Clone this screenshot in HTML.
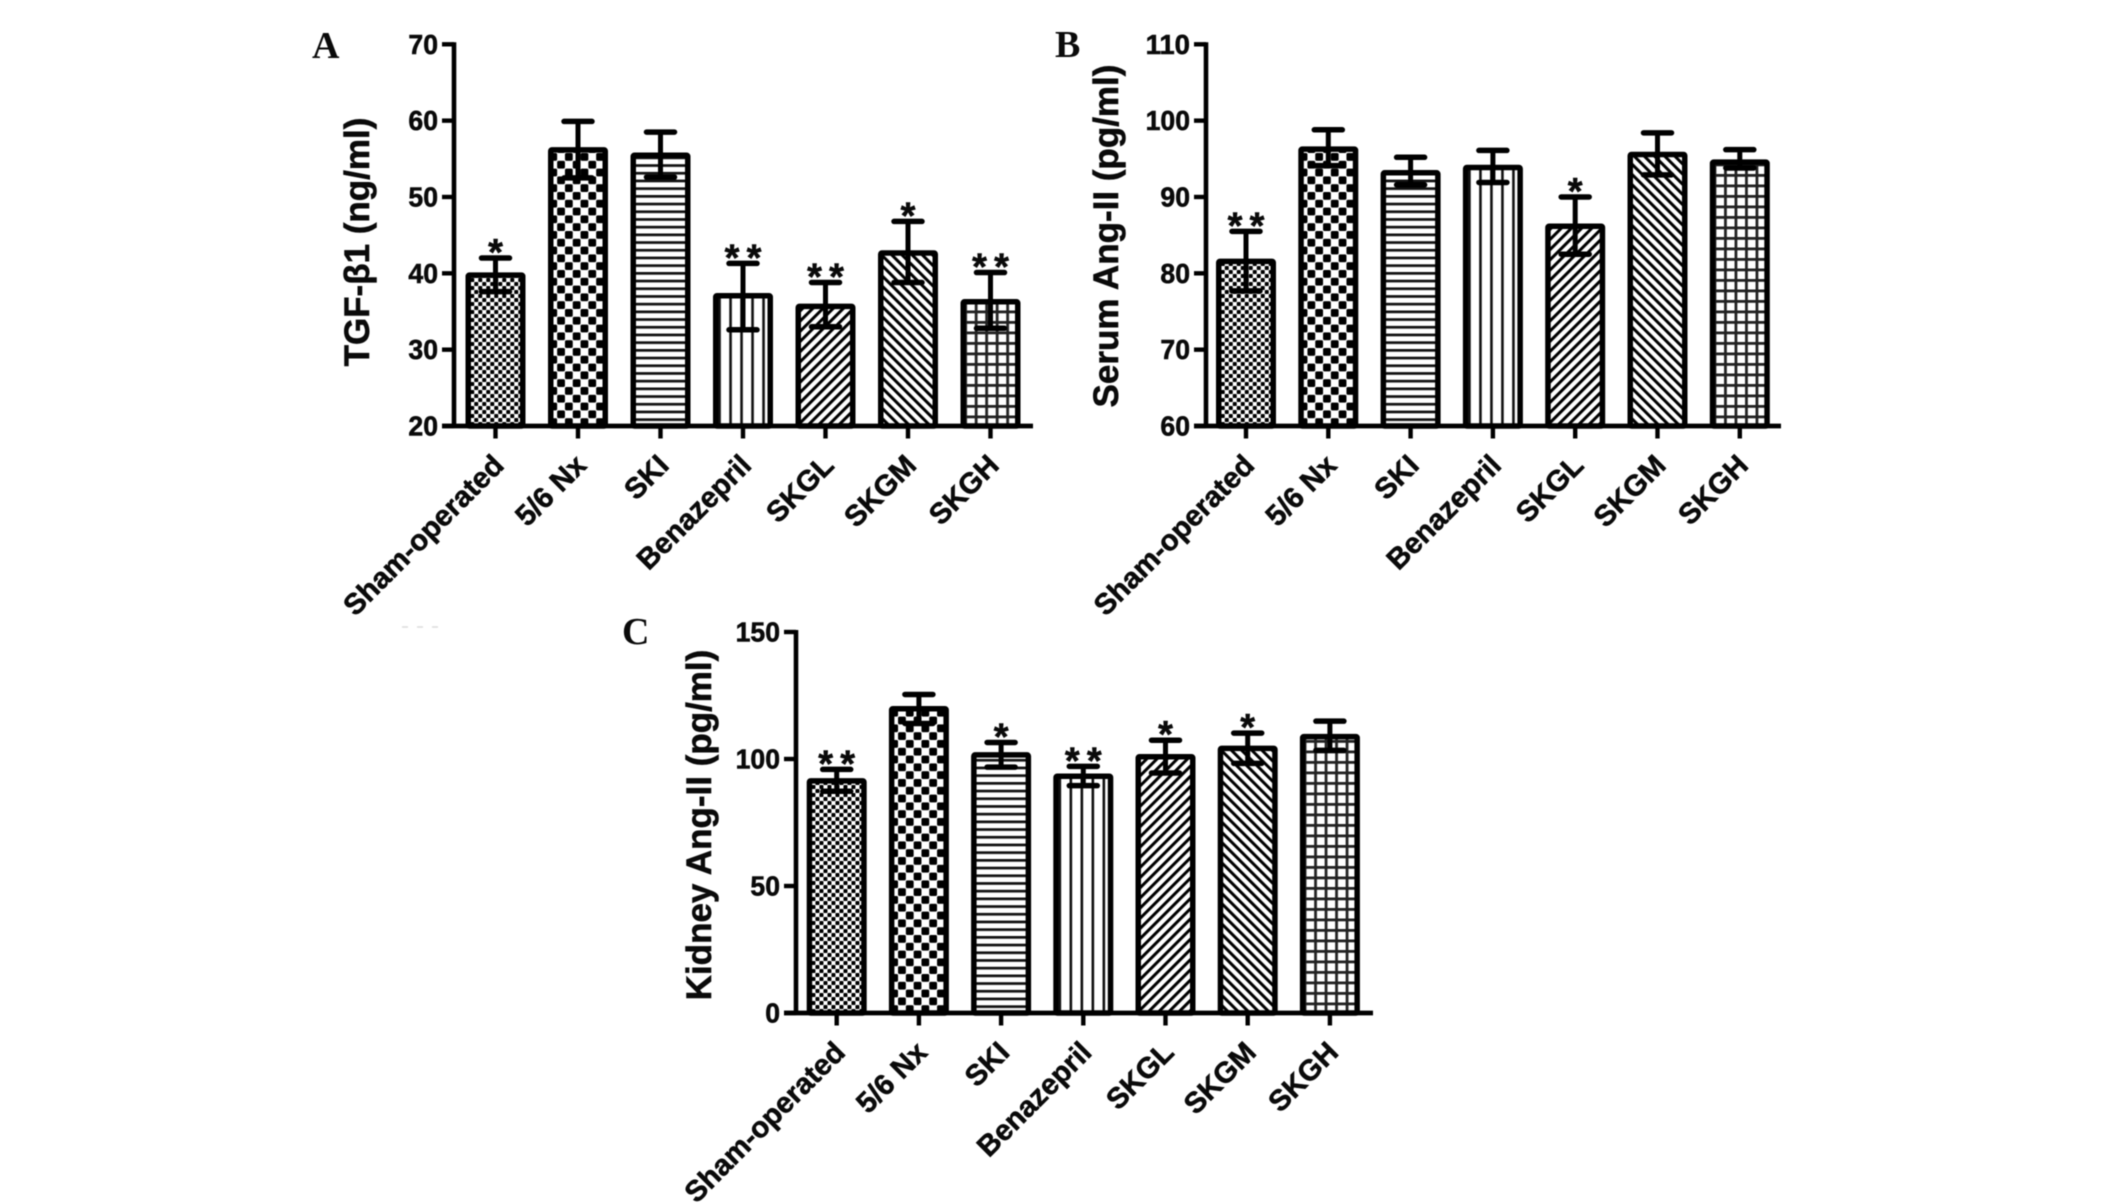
<!DOCTYPE html>
<html lang="en">
<head>
<meta charset="utf-8">
<title>TGF-β1, Serum Ang-II and Kidney Ang-II bar charts</title>
<style>
html,body{margin:0;padding:0;background:#fff;}
#figure{display:block;width:2126px;height:1203px;filter:blur(0.5px);}
text{font-family:"Liberation Sans",Arial,sans-serif;font-weight:bold;fill:#0a0a0a;stroke:#0a0a0a;stroke-width:0.55px;}
text.letter{font-family:"Liberation Serif","Times New Roman",serif;stroke:none;}
</style>
</head>
<body>
<svg id="figure" xmlns="http://www.w3.org/2000/svg" width="2126" height="1203" viewBox="0 0 2126 1203">
<defs id="defs"></defs>
<rect x="0" y="0" width="2126" height="1203" fill="#fff"></rect>
<line x1="402" y1="627" x2="438" y2="627" stroke="#dcdcdc" stroke-width="1.5" stroke-dasharray="6 9"></line>
</svg>
<script>
const categories = ['Sham-operated', '5/6 Nx', 'SKI', 'Benazepril', 'SKGL', 'SKGM', 'SKGH'];

const ticksA = [20, 30, 40, 50, 60, 70];
const valuesA = [39.9, 56.3, 55.6, 37.2, 35.8, 42.8, 36.4];
const upperA = [42.0, 59.9, 58.5, 41.3, 38.8, 46.8, 40.1];
const lowerA = [37.6, 52.5, 52.6, 32.6, 33.0, 38.8, 32.8];
const starsA = [1, 0, 0, 2, 2, 1, 2];

const ticksB = [60, 70, 80, 90, 100, 110];
const valuesB = [81.7, 96.4, 93.3, 94.0, 86.3, 95.7, 94.7];
const upperB = [85.5, 98.8, 95.2, 96.1, 90.0, 98.4, 96.2];
const lowerB = [77.7, 94.1, 91.6, 91.9, 82.5, 92.9, 93.8];
const starsB = [2, 0, 0, 0, 1, 0, 0];

const ticksC = [0, 50, 100, 150];
const valuesC = [91.8, 120.2, 102.0, 93.6, 101.3, 104.6, 109.2];
const upperC = [95.9, 125.4, 106.5, 97.1, 107.4, 110.2, 114.9];
const lowerC = [87.3, 114.0, 96.8, 89.5, 94.5, 98.3, 103.4];
const starsC = [2, 0, 1, 2, 1, 1, 0];

const SVG_NS = 'http://www.w3.org/2000/svg';
const svg = document.getElementById('figure');
const defs = document.getElementById('defs');

function make(tag, attrs, parent) {
  const node = document.createElementNS(SVG_NS, tag);
  for (const key in attrs) node.setAttribute(key, attrs[key]);
  parent.appendChild(node);
  return node;
}

function makePattern(id, index, cx, axisY) {
  const kinds = [
    {w: 8, h: 8},
    {w: 15.6, h: 15.6},
    {w: 10, h: 7.7},
    {w: 11, h: 10},
    {w: 7.2, h: 7.2, rotate: 45},
    {w: 7.2, h: 7.2, rotate: -45},
    {w: 10.5, h: 10.5}
  ];
  const kind = kinds[index];
  const attrs = {id: id, patternUnits: 'userSpaceOnUse', x: cx - 5.25, y: axisY, width: kind.w, height: kind.h};
  if (kind.rotate) {
    attrs.x = 0;
    attrs.y = 0;
    attrs.patternTransform = 'translate(' + cx + ' ' + axisY + ') rotate(' + kind.rotate + ')';
  }
  if (index === 3) attrs.x = cx - 5.5 + 2.75;
  const p = make('pattern', attrs, defs);
  make('rect', {x: 0, y: 0, width: kind.w, height: kind.h, fill: '#fff'}, p);
  if (index === 0 || index === 1) {
    const c = kind.w / 2;
    make('rect', {x: 0, y: 0, width: c, height: c, fill: '#000', rx: index === 1 ? 1.6 : 0.8}, p);
    make('rect', {x: c, y: c, width: c, height: c, fill: '#000', rx: index === 1 ? 1.6 : 0.8}, p);
  } else if (index === 2) {
    make('rect', {x: 0, y: 0, width: kind.w, height: 2.7, fill: '#111'}, p);
  } else if (index === 3) {
    make('rect', {x: 0, y: 0, width: 2.6, height: kind.h, fill: '#111'}, p);
  } else if (index === 4 || index === 5) {
    make('rect', {x: 0, y: 0, width: 3.0, height: kind.h, fill: '#000'}, p);
  } else {
    make('rect', {x: 0, y: 0, width: 2.8, height: kind.h, fill: '#222'}, p);
    make('rect', {x: 0, y: 0, width: kind.w, height: 2.8, fill: '#222'}, p);
  }
}

function drawPanel(key, opts, ticks, values, upper, lower, stars) {
  const min = ticks[0];
  const max = ticks[ticks.length - 1];
  const yScale = function (v) { return opts.bottom - (v - min) / (max - min) * (opts.bottom - opts.top); };
  const xScale = function (i) { return opts.x0 + opts.step * i; };

  const panel = make('g', {}, svg);
  
  

  const letter = make('text', {x: opts.letterX, y: opts.letterY, 'font-size': 38, class: 'letter'}, panel);
  letter.textContent = key.toUpperCase();
  
  

  categories.forEach(function (cat, i) {
    const cx = xScale(i);
    const pid = 'fill-' + key + '-' + i;
    makePattern(pid, i, cx, opts.bottom);
    const outerTop = yScale(values[i]);
    const bar = make('rect', {x: cx - 27.25, y: outerTop + 1, width: 54.5, height: opts.bottom - outerTop - 1, rx: 1.2, fill: 'url(#' + pid + ')', stroke: '#000', 'stroke-width': 5.5}, panel);
    
    

    const err = make('g', {stroke: '#000', 'stroke-linecap': 'round', fill: 'none'}, panel);
    
    
    make('line', {x1: cx, x2: cx, y1: yScale(upper[i]), y2: yScale(lower[i]), 'stroke-width': 5, 'stroke-linecap': 'butt'}, err);
    make('line', {x1: cx - 14, x2: cx + 14, y1: yScale(upper[i]), y2: yScale(upper[i]), 'stroke-width': 5.5}, err);
    make('line', {x1: cx - 14, x2: cx + 14, y1: yScale(lower[i]), y2: yScale(lower[i]), 'stroke-width': 5.5}, err);

    for (let s = 0; s < stars[i]; s++) {
      const offset = stars[i] === 2 ? (s === 0 ? -11 : 11) : 0;
      const star = make('text', {x: cx + offset, y: yScale(upper[i]) + 7, 'font-size': 38, 'text-anchor': 'middle'}, panel);
      star.textContent = '*';
      
      
    }

    const tick = make('line', {x1: cx, x2: cx, y1: opts.bottom, y2: opts.bottom + 12.5, stroke: '#000', 'stroke-width': 4.4}, panel);
    
    

    const lx = cx + 10;
    const ly = opts.bottom + 41;
    const label = make('text', {x: lx, y: ly, 'font-size': 29.2, 'text-anchor': 'end', transform: 'rotate(-45 ' + lx + ' ' + ly + ')'}, panel);
    label.textContent = cat;
    
    
  });

  const yAxis = make('line', {x1: opts.axisX, x2: opts.axisX, y1: opts.top - 2, y2: opts.bottom + 2, stroke: '#000', 'stroke-width': 4.6}, panel);
  
  

  const xAxis = make('line', {x1: opts.axisX - 12, x2: opts.xEnd, y1: opts.bottom, y2: opts.bottom, stroke: '#000', 'stroke-width': 4.8}, panel);
  
  

  ticks.forEach(function (t) {
    const y = yScale(t);
    const tick = make('line', {x1: opts.axisX - 12, x2: opts.axisX, y1: y, y2: y, stroke: '#000', 'stroke-width': 4.4}, panel);
    
    
    const digits = String(t).length;
    const label = make('text', {x: opts.axisX - 16, y: y + 9.5, 'font-size': 27.5, 'text-anchor': 'end', textLength: digits * 14.8, lengthAdjust: 'spacingAndGlyphs'}, panel);
    label.textContent = String(t);
    
    
  });

  const title = make('text', {x: opts.titleX, y: opts.titleY, 'font-size': 35, 'text-anchor': 'middle', transform: 'rotate(-90 ' + opts.titleX + ' ' + opts.titleY + ')'}, panel);
  title.textContent = opts.title;
  
  
}

drawPanel('a', {top: 44.3, bottom: 426, axisX: 454, xEnd: 1033, x0: 495.5, step: 82.5, letterX: 312, letterY: 58, titleX: 369, titleY: 242, title: 'TGF-β1 (ng/ml)'}, ticksA, valuesA, upperA, lowerA, starsA);
drawPanel('b', {top: 44.3, bottom: 426, axisX: 1206, xEnd: 1781, x0: 1246, step: 82.3, letterX: 1055, letterY: 57, titleX: 1118, titleY: 236, title: 'Serum Ang-II (pg/ml)'}, ticksB, valuesB, upperB, lowerB, starsB);
drawPanel('c', {top: 632, bottom: 1013, axisX: 796, xEnd: 1373, x0: 836.7, step: 82.2, letterX: 622, letterY: 644, titleX: 711, titleY: 825, title: 'Kidney Ang-II (pg/ml)'}, ticksC, valuesC, upperC, lowerC, starsC);
</script>
</body>
</html>
